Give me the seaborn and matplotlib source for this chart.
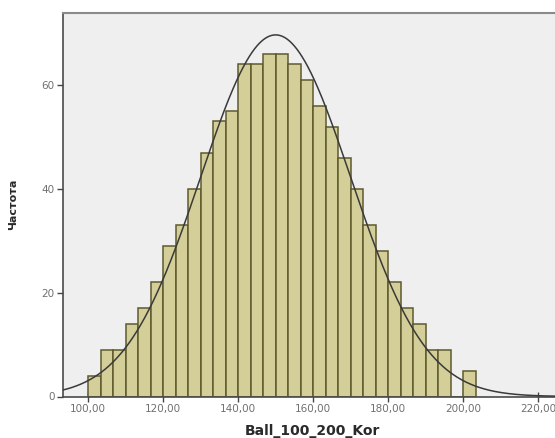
import numpy as np
import pandas as pd
import seaborn as sns
import matplotlib
matplotlib.use("Agg")
import matplotlib.pyplot as plt
from matplotlib.ticker import FuncFormatter, FixedLocator

# Frequencies per bin (bin width 10/3, starting at 100)
bin_start = 100.0
bin_width = 10.0 / 3.0
counts = [4, 9, 9, 14, 17, 22, 29, 33, 40, 47, 53, 55, 64, 64, 66,
          66, 64, 61, 56, 52, 46, 40, 33, 28, 22, 17, 14, 9, 9, 0, 5]

# Fitted normal curve parameters
fit_mean = 150.0
fit_sd = 20.0

x_ticks = [100, 120, 140, 160, 180, 200, 220]
y_ticks = [0, 20, 40, 60]
x_label = "Ball_100_200_Kor"
y_label = "Частота"

edges = bin_start + bin_width * np.arange(len(counts) + 1)
centers = (edges[:-1] + edges[1:]) / 2
df = pd.DataFrame({"value": centers, "freq": counts})

sns.set_theme(style="white")
plt.rcParams["font.family"] = ["DejaVu Sans"]

fig = plt.figure(figsize=(5.55, 4.38), dpi=100)
W, H = 555, 438
left_px, right_px, top_px, bottom_px = 63, 561, 13, 396.5
ax = fig.add_axes([left_px / W, 1 - bottom_px / H,
                   (right_px - left_px) / W, (bottom_px - top_px) / H])
ax.set_facecolor("#EFEFEF")

sns.histplot(data=df, x="value", weights="freq",
             binwidth=bin_width, binrange=(edges[0], edges[-1]), stat="count",
             color="#D4CF98", edgecolor="#5E5A2E", linewidth=1.1, alpha=1.0,
             ax=ax, zorder=2)

# Normal curve scaled to the histogram counts
n_total = sum(counts)
xs = np.linspace(90, 230, 600)
ys = n_total * bin_width / (fit_sd * np.sqrt(2 * np.pi)) * np.exp(-0.5 * ((xs - fit_mean) / fit_sd) ** 2)
sns.lineplot(x=xs, y=ys, color="#3A3A3A", linewidth=1.1, ax=ax, zorder=3)

ax.set_xlim(93.3, 226.1)
ax.set_ylim(0, 73.9)

ax.xaxis.set_major_locator(FixedLocator(x_ticks))
ax.yaxis.set_major_locator(FixedLocator(y_ticks))
ax.xaxis.set_major_formatter(FuncFormatter(lambda v, p: f"{v:.2f}".replace(".", ",")))
ax.yaxis.set_major_formatter(FuncFormatter(lambda v, p: f"{v:.0f}"))

ax.tick_params(axis="x", direction="inout", length=7, width=1.0, color="#444444",
               labelsize=7.5, labelcolor="#707070", pad=2, bottom=True)
ax.tick_params(axis="y", direction="out", length=4, width=1.0, color="#444444",
               labelsize=7.5, labelcolor="#707070", pad=2, left=True)

for side in ["left", "bottom"]:
    ax.spines[side].set_color("#4A4A4A")
    ax.spines[side].set_linewidth(1.2)
ax.spines["top"].set_color("#8A8A8A")
ax.spines["top"].set_linewidth(1.5)
ax.spines["right"].set_color("#8A8A8A")

ax.set_xlabel(x_label, fontsize=10, fontweight="bold", color="#2A2A2A", labelpad=7)
ax.set_ylabel(y_label, fontsize=8, fontweight="bold", color="#2A2A2A", labelpad=17)

fig.savefig("out.png", dpi=100, facecolor="white")
